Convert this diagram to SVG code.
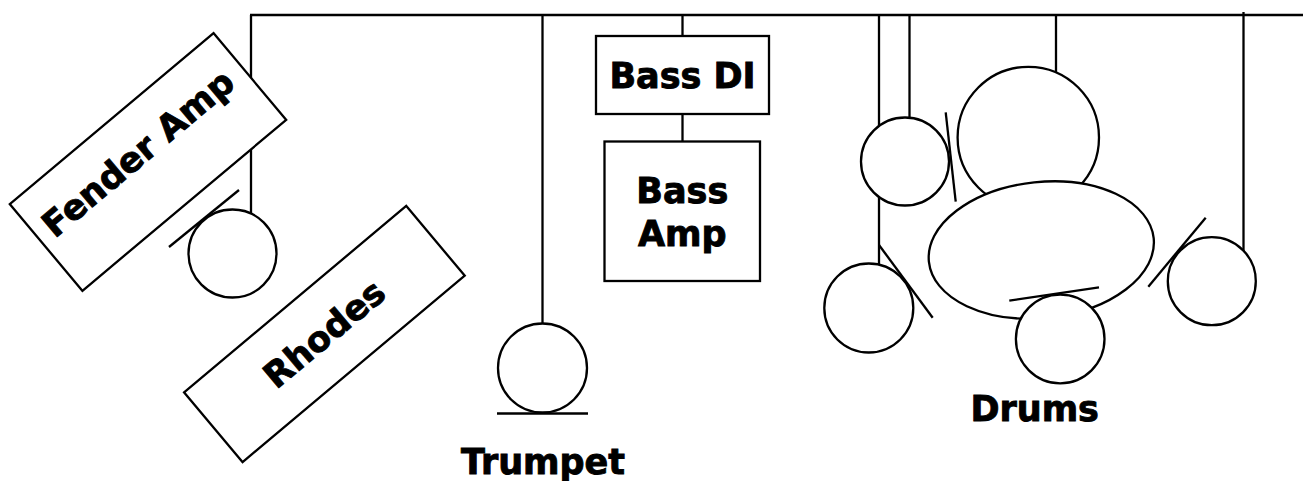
<svg xmlns="http://www.w3.org/2000/svg" width="1303" height="481" viewBox="0 0 1303 481">
<style>
.ln{stroke:#000;stroke-width:2.3;fill:none}
.sh{stroke:#000;stroke-width:2.3;fill:#fff}
.lb{font-family:"DejaVu Sans","Liberation Sans",sans-serif;font-weight:bold;font-size:35px;fill:#000;stroke:#000;stroke-width:0.9;text-anchor:middle}
</style>
<rect width="1303" height="481" fill="#fff"/>
<g id="connectors">
<line class="ln" x1="250" y1="15" x2="1303" y2="15"/>
<line class="ln" x1="251" y1="15" x2="251" y2="214"/>
<line class="ln" x1="542.5" y1="15" x2="542.5" y2="323"/>
<line class="ln" x1="682.5" y1="15" x2="682.5" y2="36"/>
<line class="ln" x1="682.5" y1="114" x2="682.5" y2="141"/>
<line class="ln" x1="879" y1="15" x2="879" y2="264"/>
<line class="ln" x1="909.5" y1="15" x2="909.5" y2="118"/>
<line class="ln" x1="1056" y1="15" x2="1056" y2="74"/>
<line class="ln" x1="1243.5" y1="12" x2="1243.5" y2="251"/>
</g>
<g id="fender-amp" transform="translate(148,162) rotate(-40)">
<rect class="sh" x="-133" y="-56.5" width="266" height="113"/>
<text class="lb" x="-2" y="-1">Fender Amp</text>
</g>
<g id="guitar-mic">
<circle class="sh" cx="232.5" cy="253.5" r="44"/>
<line class="ln" x1="169" y1="247" x2="239" y2="190"/>
</g>
<g id="rhodes" transform="translate(324.4,334) rotate(-40)">
<rect class="sh" x="-145" y="-45.5" width="290" height="91"/>
<text class="lb" x="0" y="12">Rhodes</text>
</g>
<g id="trumpet">
<circle class="sh" cx="542.5" cy="368" r="44.5"/>
<line class="ln" x1="497" y1="413.5" x2="588" y2="413.5"/>
<text class="lb" x="543" y="474">Trumpet</text>
</g>
<g id="bass-di">
<rect class="sh" x="596" y="36" width="173" height="78"/>
<text class="lb" x="682.5" y="88">Bass DI</text>
</g>
<g id="bass-amp">
<rect class="sh" x="604.5" y="141.5" width="155.5" height="139.5"/>
<text class="lb" x="682.3" y="203">Bass</text>
<text class="lb" x="682.3" y="246">Amp</text>
</g>
<g id="drums">
<circle class="sh" cx="905" cy="161.5" r="44"/>
<line class="ln" x1="945.7" y1="112.3" x2="955.7" y2="201.7"/>
<circle class="sh" cx="868.8" cy="308" r="44.5"/>
<line class="ln" x1="879" y1="245" x2="932.7" y2="317.7"/>
<circle class="sh" cx="1028.3" cy="137.5" r="70.7"/>
<ellipse class="sh" cx="1041.3" cy="250" rx="113" ry="68" transform="rotate(-6 1041.3 250)"/>
<circle class="sh" cx="1060.2" cy="339" r="44.3"/>
<line class="ln" x1="1009.3" y1="300.7" x2="1099" y2="287.3"/>
<circle class="sh" cx="1211.8" cy="281.2" r="44"/>
<line class="ln" x1="1148.3" y1="286.7" x2="1205.7" y2="217.7"/>
<text class="lb" x="1034.7" y="421">Drums</text>
</g>
</svg>
